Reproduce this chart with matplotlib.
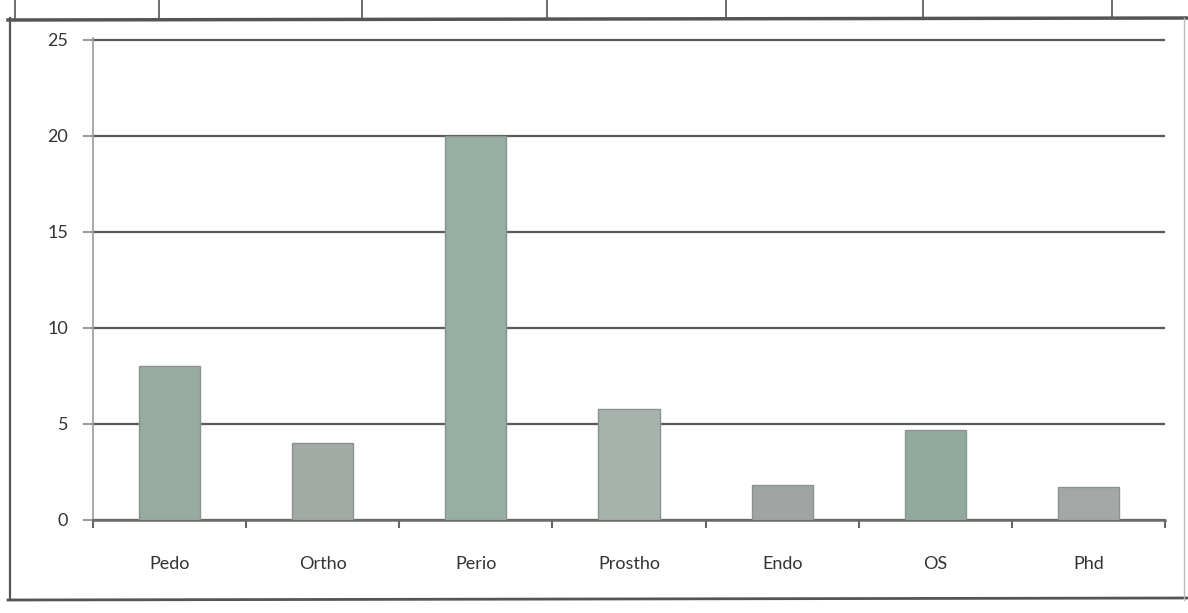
import numpy as np
import matplotlib.pyplot as plt
from matplotlib.lines import Line2D

# data
categories = ["Pedo", "Ortho", "Perio", "Prostho", "Endo", "OS", "Phd"]
counts = [8, 4, 20, 5.8, 1.8, 4.7, 1.7]

bar_colors = ["#97aca1", "#a2aaa5", "#96aea3", "#a8b2ac", "#a0a4a2", "#92aa9e", "#a4a7a5"]

W, H = 1188, 613
fig = plt.figure(figsize=(W / 100, H / 100), dpi=100)
fig.patch.set_facecolor("white")

ax = fig.add_axes([93 / W, 1 - 520 / H, (1165 - 93) / W, (520 - 38) / H])

x = np.arange(len(categories))
ax.bar(x, counts, width=0.4, color=bar_colors, edgecolor="#8a948f", linewidth=1.0, zorder=3)

ax.set_xlim(-0.5, len(categories) - 0.5)
ax.set_ylim(0, 25.1)
ax.set_yticks([0, 5, 10, 15, 20, 25])
ax.set_xticks(x)
ax.set_xticklabels(categories)

# horizontal gridlines
ax.grid(axis="y", color="#5a5a5a", linewidth=1.6, zorder=1)
ax.set_axisbelow(True)

for side in ["top", "right"]:
    ax.spines[side].set_visible(False)
ax.spines["left"].set_color("#9a9a9a")
ax.spines["left"].set_linewidth(1.2)
ax.spines["bottom"].set_color("#6a6a6a")
ax.spines["bottom"].set_linewidth(1.8)

# category separators on the x axis
ax.set_xticks(np.arange(len(categories) + 1) - 0.5, minor=True)
ax.tick_params(axis="x", which="major", length=0, pad=26, labelsize=13, labelcolor="#333333")
ax.tick_params(axis="x", which="minor", length=6, width=1.5, color="#666666")
ax.tick_params(axis="y", length=7, width=1.2, color="#888888", pad=11, labelsize=13,
               labelcolor="#333333")
for lab in ax.get_xticklabels() + ax.get_yticklabels():
    lab.set_family(["Lato", "DejaVu Sans"])

# outer chart border of the scan
border = dict(color="#555555", transform=fig.transFigure)
fig.add_artist(Line2D([8 / W, 1188 / W], [1 - 20 / H, 1 - 18 / H], linewidth=2.5, **border))
fig.add_artist(Line2D([10 / W, 10 / W], [1 - 18 / H, 1 - 600 / H], linewidth=1.6, **border))
fig.add_artist(Line2D([8 / W, 1188 / W], [1 - 600 / H, 1 - 598 / H], linewidth=2.0, **border))
fig.add_artist(Line2D([1184 / W, 1184 / W], [1 - 18 / H, 1 - 600 / H], linewidth=1.0,
                      color="#bbbbbb", transform=fig.transFigure))

# fragment of the table above the chart
for xp in [15, 159, 362, 547, 726, 923, 1112]:
    fig.add_artist(Line2D([xp / W, xp / W], [1.0, 1 - 18 / H], linewidth=1.2, **border))

fig.savefig("out.png", dpi=100, facecolor="white")
